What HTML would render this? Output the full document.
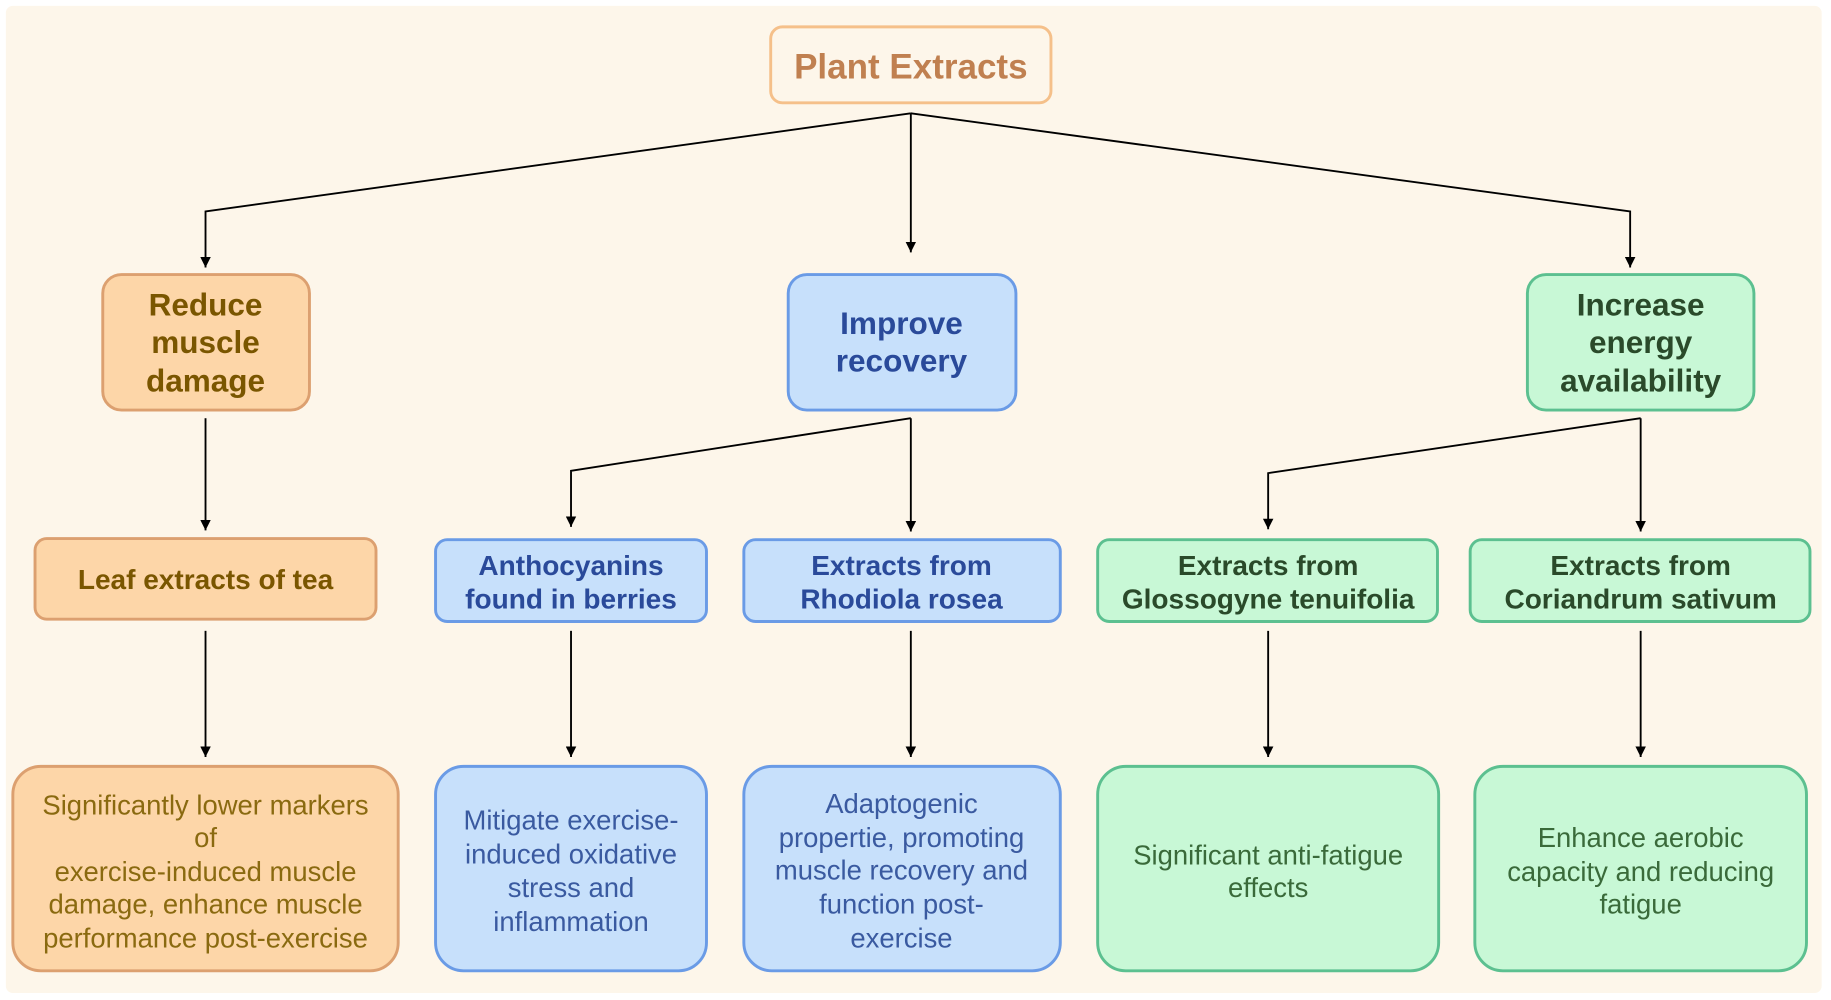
<!DOCTYPE html>
<html><head><meta charset="utf-8"><style>
html,body{margin:0;padding:0;background:#fff;}
svg{display:block;}
text{font-family:"Liberation Sans",sans-serif;}
</style></head><body>
<svg width="1831" height="1000" viewBox="0 0 1568 856" preserveAspectRatio="none">
<defs>
<marker id="b" viewBox="0 0 10 10" refX="10" refY="5" markerWidth="9" markerHeight="9" orient="auto" markerUnits="userSpaceOnUse"><path d="M0,0 L10,5 L0,10 Z" fill="#000"/></marker></defs>
<rect x="5" y="5" width="1555" height="845" fill="#fdf6ea" rx="6"/>
<g stroke="#000" stroke-width="1.6" fill="none" marker-end="url(#b)">
<polyline points="780,97 176,181 176,229"/>
<polyline points="780,97 780,216"/>
<polyline points="780,97 1396,181 1396,229"/>
<polyline points="780,358 489,403 489,451"/>
<polyline points="780,358 780,455"/>
<polyline points="1405,358 1086,405 1086,453"/>
<polyline points="1405,358 1405,455"/>
<polyline points="176,358 176,454"/>
<polyline points="176,540 176,648"/>
<polyline points="489,540 489,648"/>
<polyline points="780,540 780,648"/>
<polyline points="1086,540 1086,648"/>
<polyline points="1405,540 1405,648"/>
</g>
<g stroke-width="2.5">
<rect x="660" y="23" width="240" height="65" rx="10" fill="#fdf6ea" stroke="#f5c08a"/>
<rect x="88" y="235" width="177" height="116" rx="16" fill="#fdd6a8" stroke="#dca070"/>
<rect x="675" y="235" width="195" height="116" rx="16" fill="#c7e0fb" stroke="#6a9be6"/>
<rect x="1308" y="235" width="194" height="116" rx="16" fill="#c8f8d6" stroke="#5cc090"/>
<rect x="30" y="461" width="292" height="69" rx="10" fill="#fdd6a8" stroke="#dca070"/>
<rect x="373" y="462" width="232" height="70" rx="10" fill="#c7e0fb" stroke="#6a9be6"/>
<rect x="637" y="462" width="271" height="70" rx="10" fill="#c7e0fb" stroke="#6a9be6"/>
<rect x="940" y="462" width="291" height="70" rx="10" fill="#c8f8d6" stroke="#5cc090"/>
<rect x="1259" y="462" width="291" height="70" rx="10" fill="#c8f8d6" stroke="#5cc090"/>
<rect x="11" y="656" width="330" height="175" rx="24" fill="#fdd6a8" stroke="#dca070"/>
<rect x="373" y="656" width="232" height="175" rx="24" fill="#c7e0fb" stroke="#6a9be6"/>
<rect x="637" y="656" width="271" height="175" rx="24" fill="#c7e0fb" stroke="#6a9be6"/>
<rect x="940" y="656" width="292" height="175" rx="24" fill="#c8f8d6" stroke="#5cc090"/>
<rect x="1263" y="656" width="284" height="175" rx="24" fill="#c8f8d6" stroke="#5cc090"/>
</g>
<g text-anchor="middle" font-weight="bold">
<text x="780" y="67" font-size="30" fill="#c08050">Plant Extracts</text>
<g font-size="27" fill="#7a5600"><text x="176" y="270">Reduce</text><text x="176" y="302">muscle</text><text x="176" y="335">damage</text></g>
<g font-size="27" fill="#2a4a9a"><text x="772" y="286">Improve</text><text x="772" y="318">recovery</text></g>
<g font-size="27" fill="#2a4a2a"><text x="1405" y="270">Increase</text><text x="1405" y="302">energy</text><text x="1405" y="335">availability</text></g>
<text x="176" y="504" font-size="24" fill="#7a5600">Leaf extracts of tea</text>
<g font-size="24" fill="#2a4a9a"><text x="489" y="492">Anthocyanins</text><text x="489" y="521">found in berries</text>
<text x="772" y="492">Extracts from</text><text x="772" y="521">Rhodiola rosea</text></g>
<g font-size="24" fill="#2a4a2a"><text x="1086" y="492">Extracts from</text><text x="1086" y="521">Glossogyne tenuifolia</text>
<text x="1405" y="492">Extracts from</text><text x="1405" y="521">Coriandrum sativum</text></g>
</g>
<g text-anchor="middle" font-size="23.5">
<g fill="#8a6a10"><text x="176" y="697">Significantly lower markers</text><text x="176" y="725">of</text><text x="176" y="754">exercise-induced muscle</text><text x="176" y="782">damage, enhance muscle</text><text x="176" y="811">performance post-exercise</text></g>
<g fill="#3a5aa0"><text x="489" y="710">Mitigate exercise-</text><text x="489" y="739">induced oxidative</text><text x="489" y="768">stress and</text><text x="489" y="797">inflammation</text>
<text x="772" y="696">Adaptogenic</text><text x="772" y="725">propertie, promoting</text><text x="772" y="753">muscle recovery and</text><text x="772" y="782">function post-</text><text x="772" y="811">exercise</text></g>
<g fill="#3a6a3a"><text x="1086" y="740">Significant anti-fatigue</text><text x="1086" y="768">effects</text>
<text x="1405" y="725">Enhance aerobic</text><text x="1405" y="754">capacity and reducing</text><text x="1405" y="782">fatigue</text></g>
</g>
</svg>
</body></html>
